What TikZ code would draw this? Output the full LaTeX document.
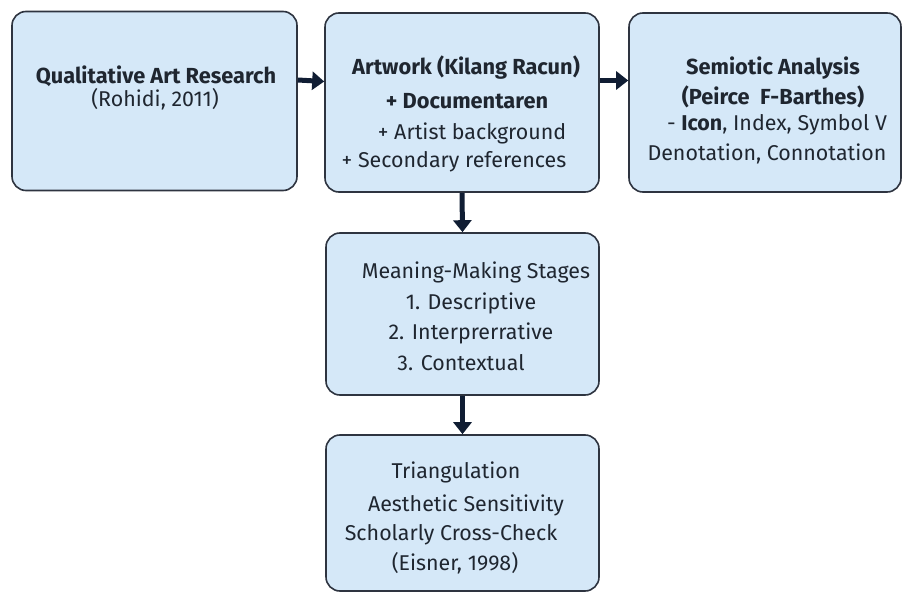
\documentclass[tikz,border=0pt]{standalone}
\usepackage{fontspec}
\setmainfont{Fira Sans}
\usetikzlibrary{arrows.meta}
\definecolor{boxfill}{HTML}{D5E8F8}
\definecolor{boxline}{HTML}{2E3440}
\definecolor{txt}{HTML}{1F2630}
\definecolor{arrcol}{HTML}{101D33}
\tikzset{
  box/.style={draw=boxline, fill=boxfill, line width=1.6pt, rounded corners=14pt, inner sep=0pt},
  tl/.style={text=txt, font=\fontsize{21.4}{25}\selectfont, inner sep=0pt, anchor=center},
  tb/.style={tl, font=\fontsize{21.8}{25}\selectfont\bfseries},
  arr/.style={arrcol, line width=5pt, -{Triangle[length=12pt,width=18pt]}, shorten >=0pt}
}
\begin{document}
\begin{tikzpicture}[x=1pt,y=-1pt]
\useasboundingbox (0,0) rectangle (904,593);
\fill[white] (0,0) rectangle (904,593);
% boxes
\node[box, minimum width=285pt, minimum height=179pt] (b1) at (154.5,101) {};
\node[box, minimum width=274pt, minimum height=179pt] (b2) at (462,102.5) {};
\node[box, minimum width=272pt, minimum height=179pt] (b3) at (765,102.5) {};
\node[box, minimum width=273pt, minimum height=162pt] (b4) at (462.5,314) {};
\node[box, minimum width=273pt, minimum height=156pt] (b5) at (462.5,513) {};
% box 1 text
\node[tb] (t11) at (156,76) {Qualitative Art Research};
\node[tl] (t12) at (155,99) {(Rohidi, 2011)};
% box 2 text
\node[tb] (t21) at (466,68) {Artwork (Kilang Racun)};
\node[tb] (t22) at (467,101) {+ Documentaren};
\node[tl] (t23) at (472,133) {+ Artist background};
\node[tl] (t24) at (454,162) {+ Secondary references};
% box 3 text
\node[tb] (t31) at (773,68) {Semiotic Analysis};
\node[tb] (t32) at (773,97) {(Peirce\ \ F-Barthes)};
\node[tl] (t33) at (777,125) {- \textbf{Icon}, Index, Symbol V};
\node[tl] (t34) at (767,154) {Denotation, Connotation};
% box 4 text
\node[tl] (t41) at (476,272) {Meaning-Making Stages};
\node[tl] (t42) at (471,303) {1. Descriptive};
\node[tl] (t43) at (471,333) {2. Interprerrative};
\node[tl] (t44) at (461,363) {3. Contextual};
% box 5 text
\node[tl] (t51) at (456,472) {Triangulation};
\node[tl] (t52) at (466,505) {Aesthetic Sensitivity};
\node[tl] (t53) at (451,535) {Scholarly Cross-Check};
\node[tl] (t54) at (455,563) {(Eisner, 1998)};
% arrows
\draw[arr] ([yshift=21pt]b1.east) -- ([yshift=21pt]b2.west);
\draw[arr] ([yshift=22pt]b2.east) -- ([yshift=22pt]b3.west);
\draw[arr] (b2.south) -- (b4.north);
\draw[arr] (b4.south) -- (b5.north);
\end{tikzpicture}
\end{document}
